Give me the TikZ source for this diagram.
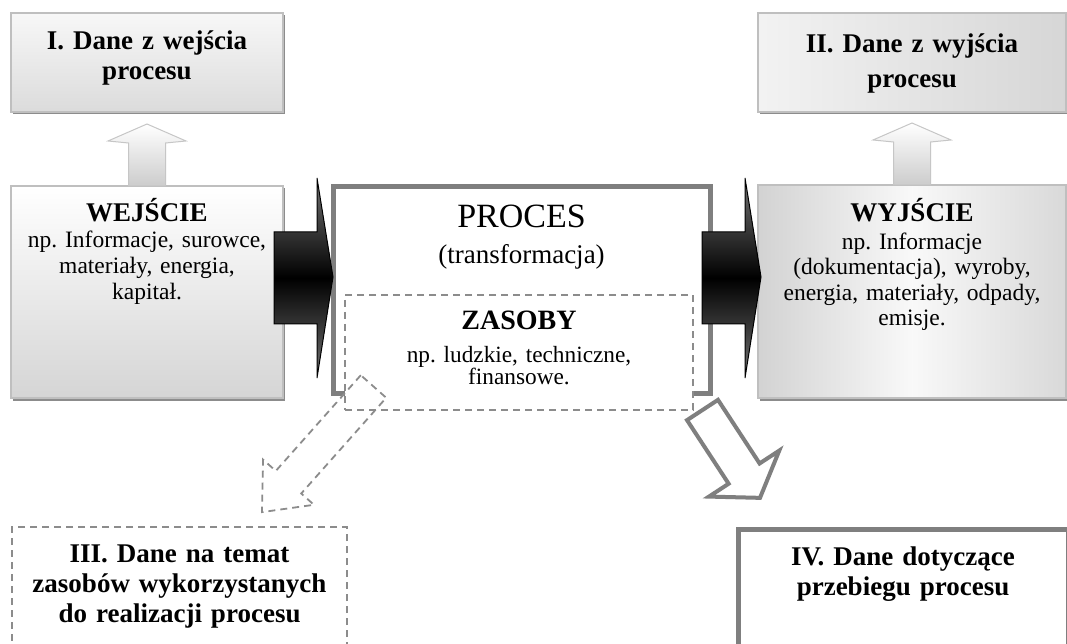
\documentclass[tikz,border=0pt]{standalone}
\usepackage{fontspec}
\setmainfont{Liberation Serif}
\usetikzlibrary{calc, shadows}
\frenchspacing
\definecolor{boxedge}{HTML}{BFBFBF}
\definecolor{procgray}{HTML}{7F7F7F}
\definecolor{dashgray}{HTML}{8C8C8C}
\tikzset{
  gbox/.style={rectangle, draw=boxedge, line width=1.2pt, inner sep=0pt, outer sep=0pt,
               align=center, anchor=north,
               drop shadow={shadow xshift=2pt, shadow yshift=-2.5pt, fill=black!45, opacity=1}},
  pbox/.style={rectangle, draw=procgray, line width=5pt, fill=white, inner sep=0pt,
               outer sep=0pt, align=center, anchor=north},
  dbox/.style={rectangle, draw=dashgray, line width=1.8pt, dash pattern=on 7pt off 5pt,
               fill=white, inner sep=0pt, outer sep=0pt, align=center, anchor=north},
  head/.style={font=\fontsize{27}{30}\selectfont\bfseries},
  body/.style={font=\fontsize{23.5}{26}\selectfont},
  blackarr/.style={draw=black, line width=1pt, top color=black!55, bottom color=black!55,
                   middle color=black},
  lightarr/.style={draw=gray!45, line width=1pt, top color=white, bottom color=gray!40},
  dasharr/.style={draw=dashgray, line width=1.8pt, dash pattern=on 7pt off 5pt, line join=miter},
  hollowarr/.style={draw=procgray, line width=4pt, fill=white, line join=miter},
}

\begin{document}
\begin{tikzpicture}[x=1pt, y=1pt]
  \fill[white] (0,0) rectangle (1067,643);
  \useasboundingbox (0,0) rectangle (1067,643);

  % boxes
  \node[gbox, head, top color=gray!6, bottom color=gray!28, text width=272pt,
        text height=37pt, text depth=62pt] (dwe) at (147,630) {I. Dane z wejścia\\procesu};
  \node[gbox, body, top color=white, bottom color=gray!33, text width=272pt,
        text height=36pt, text depth=176pt] (wej) at (147,457)
        {{\fontsize{27}{30}\selectfont\bfseries WEJŚCIE}\\np. Informacje, surowce,\\materiały, energia,\\kapitał.};
  \node[gbox, head, font=\fontsize{27}{35}\selectfont\bfseries, left color=gray!10, right color=gray!32,
        text width=308pt, text height=40pt, text depth=59pt] (dwy) at (912,630) {II. Dane z wyjścia\\procesu};
  \node[gbox, body, font=\fontsize{23.5}{25.5}\selectfont, left color=gray!35, right color=gray!30,
        middle color=gray!5, text width=308pt, text height=37pt, text depth=176pt] (wyj) at (912,458)
        {{\fontsize{27}{30}\selectfont\bfseries WYJŚCIE}\\[2pt]np. Informacje\\(dokumentacja), wyroby,\\energia, materiały, odpady,\\emisje.};

  \node[pbox, font=\fontsize{27}{36}\selectfont, text width=377pt, text height=41pt,
        text depth=165pt] (proc) at (521.5,456) {{\fontsize{34}{36}\selectfont PROCES}\\(transformacja)};
  \node[dbox, font=\fontsize{23.3}{21.5}\selectfont, text width=348pt, text height=35pt,
        text depth=80pt] (zas) at (519,348)
        {{\fontsize{28}{30}\selectfont\bfseries ZASOBY}\\[11.5pt]np. ludzkie, techniczne,\\finansowe.};

  \node[dbox, head, text width=335pt, text height=35pt, text depth=100pt] (d3) at (179.5,116)
        {III. Dane na temat\\zasobów wykorzystanych\\do realizacji procesu};
  \node[pbox, head, text width=330pt, text height=36pt, text depth=100pt] (d4) at (903,114)
        {IV. Dane dotyczące\\przebiegu procesu};

  % block arrows
  \foreach \anc/\dx in {proc.west/-59, proc.east/-8}
    \path[blackarr, shift={($(\anc)+(\dx,0)$)}] (0,58) -- (43,58) -- (43,112) -- (59,13)
      -- (43,-88) -- (43,-34) -- (0,-34) -- cycle;
  \foreach \nd in {wej, wyj}
    \path[lightarr, shift={(\nd.north)}] (-18.5,0) -- (-18.5,43) -- (-39,45) -- (0,62)
      -- (39,45) -- (18.5,43) -- (18.5,0) -- cycle;

  \draw[dasharr, shift={($(zas.south west)+(28.5,23.5)$)}, rotate=-131.6]
    (0,-17) -- (128,-17) -- (128,-34) -- (168,0) -- (128,34) -- (128,17) -- (0,17) -- cycle;
  \draw[hollowarr, shift={($(proc.south east)+(-7.5,-17)$)}, rotate=-56.8]
    (0,-18.5) -- (76,-18.5) -- (76,-42) -- (105,0) -- (76,42) -- (76,18.5) -- (0,18.5) -- cycle;
\end{tikzpicture}
\end{document}
